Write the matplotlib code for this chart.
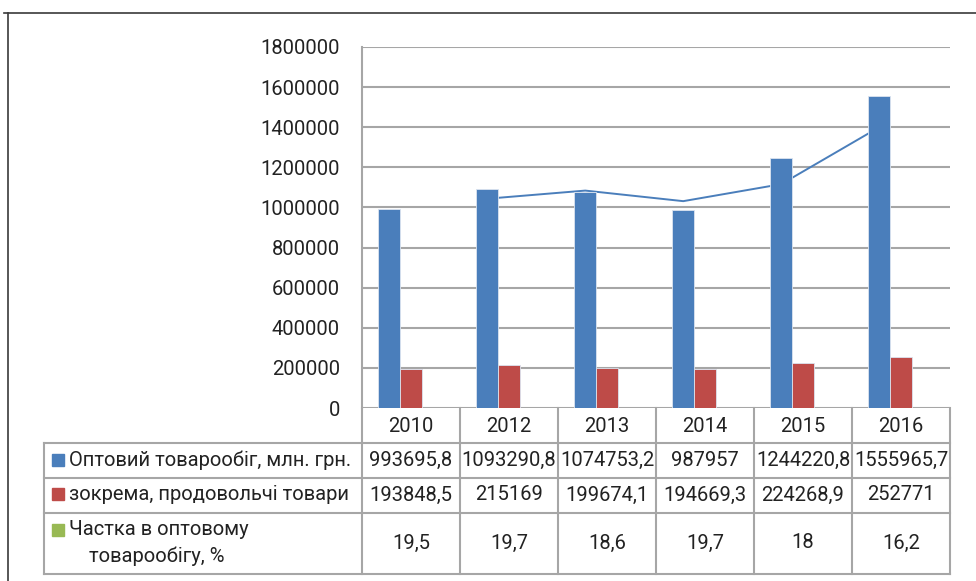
import numpy as np
import matplotlib
matplotlib.use('Agg')
import matplotlib.pyplot as plt
from matplotlib.lines import Line2D
from matplotlib.patches import Rectangle
from matplotlib.transforms import blended_transform_factory

plt.rcParams['font.family'] = ['Roboto', 'DejaVu Sans']
plt.rcParams['font.size'] = 14.5

years = ['2010', '2012', '2013', '2014', '2015', '2016']
wholesale = [993695.8, 1093290.8, 1074753.2, 987957, 1244220.8, 1555965.7]
food = [193848.5, 215169, 199674.1, 194669.3, 224268.9, 252771]
share = [19.5, 19.7, 18.6, 19.7, 18, 16.2]
labels = ['Оптовий товарообіг, млн. грн.', 'зокрема, продовольчі товари',
          'Частка в оптовому\n    товарообігу, %']
colors = ['#4a7ebb', '#be4b48', '#98b954']
grid_c = '#a6a6a6'
text_c = '#222222'

W, H = 976, 581
def fx(px):
    return px / W
def fy(py):
    return 1 - py / H

fig = plt.figure(figsize=(W / 100, H / 100), dpi=100)
ax = fig.add_axes([fx(362), fy(408), fx(950) - fx(362), fy(47) - fy(408)])

x = np.arange(len(years))
bw = 1 / 4.5
for k, series in enumerate([wholesale, food, share]):
    ax.bar(x + (k - 1) * bw, series, bw, color=colors[k],
           edgecolor='#dbe4f0', linewidth=0.6, zorder=3)

# moving-average trendline (period 2) on the wholesale series, behind the bars
ma = np.convolve(wholesale, [0.5, 0.5], mode='valid')
ax.plot(x[1:] - bw, ma, color='#4a7ebb', lw=1.4, zorder=2)

ax.set_xlim(-0.5, len(years) - 0.5)
ax.set_ylim(0, 1800000)
ax.set_yticks(np.arange(0, 1800001, 200000))
ax.set_yticklabels([str(v) for v in range(0, 1800001, 200000)])
ax.set_xticks([])
ax.tick_params(axis='y', length=0, pad=16, labelcolor=text_c)
ax.grid(axis='y', color=grid_c, lw=1.5, zorder=0)
for s in ['top', 'right', 'bottom']:
    ax.spines[s].set_visible(False)
ax.spines['left'].set_color(grid_c)
ax.spines['left'].set_linewidth(1.5)

# data table under the chart
tr = blended_transform_factory(ax.transData, fig.transFigure)
def hline(py, x0, x1):
    fig.add_artist(Line2D([fx(x0), fx(x1)], [fy(py), fy(py)], color=grid_c, lw=1.5))
def vline(px, y0, y1, transform=None):
    fig.add_artist(Line2D([px, px], [fy(y0), fy(y1)], color=grid_c, lw=1.5,
                          transform=transform or fig.transFigure))

for py in [443, 478, 513, 574]:
    hline(py, 44, 950)
for b in np.arange(len(years) + 1) - 0.5:
    vline(b, 408, 574, tr)
vline(fx(44), 443, 574)

for i, yr in enumerate(years):
    fig.text(i, fy(426), yr, transform=tr, ha='center', va='center', color=text_c)

def fmt(v):
    s = ('%.1f' % v).rstrip('0').rstrip('.')
    return s.replace('.', ',')

row_y = [460, 495, 543]
for r, series in enumerate([wholesale, food, share]):
    for i, v in enumerate(series):
        fig.text(i, fy(row_y[r]), fmt(v), transform=tr, ha='center', va='center',
                 color=text_c)

mark_y = [460, 494, 530]
for r, lab in enumerate(labels):
    fig.add_artist(Rectangle((fx(52), fy(mark_y[r] + 6)), fx(12), 12 / H,
                             color=colors[r]))
    fig.text(fx(69), fy(row_y[r]), lab, ha='left', va='center', color=text_c,
             linespacing=1.45)

# outer frame
fig.add_artist(Line2D([fx(4), fx(976)], [fy(13), fy(13)], color='#3a3a3a', lw=1.2))
fig.add_artist(Line2D([fx(8), fx(8)], [fy(13), fy(581)], color='#3a3a3a', lw=1.2))

fig.savefig('out.png', dpi=100)
